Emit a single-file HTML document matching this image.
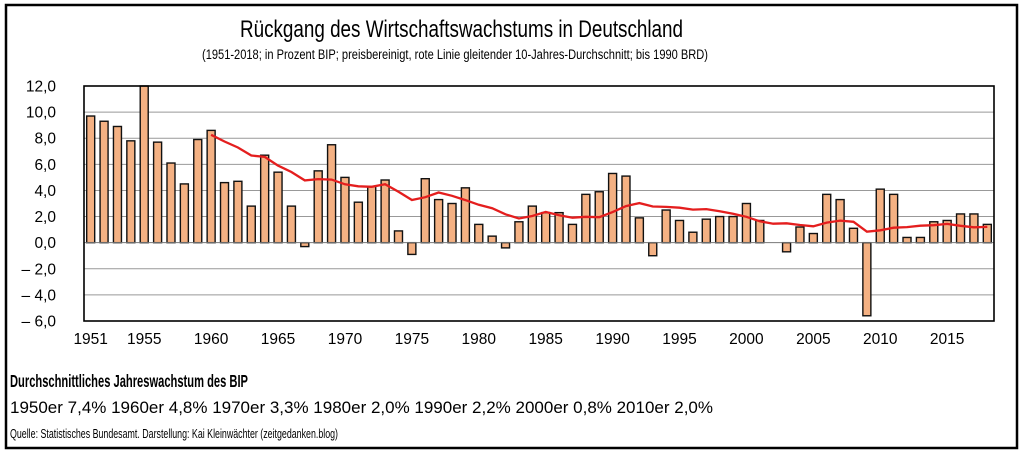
<!DOCTYPE html>
<html><head><meta charset="utf-8"><style>
html,body{margin:0;padding:0;background:#fff}
svg{display:block}
text{font-family:"Liberation Sans",sans-serif;fill:#000}
</style></head><body>
<svg id="s" width="1024" height="451" xmlns="http://www.w3.org/2000/svg"></svg>
<script>
const d=[9.7,9.3,8.9,7.8,12.1,7.7,6.1,4.5,7.9,8.6,4.6,4.7,2.8,6.7,5.4,2.8,-0.3,5.5,7.5,5.0,3.1,4.3,4.8,0.9,-0.9,4.9,3.3,3.0,4.2,1.4,0.5,-0.4,1.6,2.8,2.3,2.3,1.4,3.7,3.9,5.3,5.1,1.9,-1.0,2.5,1.7,0.8,1.8,2.0,2.0,3.0,1.7,0.0,-0.7,1.2,0.7,3.7,3.3,1.1,-5.6,4.1,3.7,0.4,0.4,1.6,1.7,2.2,2.2,1.4];
const L=84,R=994,T=86,B=321,Z=T+12*(B-T)/18,k=(B-T)/18,st=(R-L)/68;
const X=i=>L+st*(i+0.5),Y=v=>Z-v*k;
let s='<rect x="6" y="5" width="1011" height="443" fill="none" stroke="#000" stroke-width="2.5"/>';
s+='<text x="461.5" y="37" font-size="24" text-anchor="middle" textLength="443" lengthAdjust="spacingAndGlyphs">Rückgang des Wirtschaftswachstums in Deutschland</text>';
s+='<text x="455" y="59" font-size="13.5" text-anchor="middle" textLength="506" lengthAdjust="spacingAndGlyphs">(1951-2018; in Prozent BIP; preisbereinigt, rote Linie gleitender 10-Jahres-Durchschnitt; bis 1990 BRD)</text>';
for(let v=-6;v<=12;v+=2){const y=Y(v);
 if(v<12&&v!=0)s+=`<line x1="${L}" x2="${R}" y1="${y}" y2="${y}" stroke="#999" stroke-width="1"/>`;
 const lab=(v<0?'– '+(-v):v)+',0';
 s+=`<text x="56" y="${y+5.5}" font-size="15.5" text-anchor="end">${lab}</text>`;}
d.forEach((v,i)=>{const vv=Math.min(v,12);const y1=Math.min(Y(vv),Z),h=Math.abs(Y(vv)-Z);
 if(h>0.1)s+=`<rect x="${X(i)-4}" y="${y1}" width="8" height="${h}" fill="#f4b183" stroke="#111" stroke-width="1.4"/>`;});
s+=`<line x1="${L}" x2="${R}" y1="${Z}" y2="${Z}" stroke="#777" stroke-width="1"/>`;
let p=[];for(let i=9;i<68;i++){let a=0;for(let j=i-9;j<=i;j++)a+=d[j];p.push(X(i).toFixed(1)+','+Y(a/10).toFixed(1));}
s+=`<polyline points="${p.join(' ')}" fill="none" stroke="#e41e1e" stroke-width="2.3"/>`;
s+=`<rect x="${L}" y="${T}" width="${R-L}" height="${B-T}" fill="none" stroke="#000" stroke-width="1.6"/>`;
[1951,1955,1960,1965,1970,1975,1980,1985,1990,1995,2000,2005,2010,2015].forEach(y=>{
 s+=`<text x="${X(y-1951)}" y="344" font-size="15.5" text-anchor="middle">${y}</text>`;});
s+='<text x="10" y="387" font-size="17.5" font-weight="bold" textLength="238" lengthAdjust="spacingAndGlyphs">Durchschnittliches Jahreswachstum des BIP</text>';
s+='<text x="10" y="413" font-size="17" textLength="703" lengthAdjust="spacingAndGlyphs">1950er 7,4%  1960er 4,8%  1970er 3,3%  1980er 2,0%  1990er 2,2%  2000er 0,8%  2010er 2,0%</text>';
s+='<text x="10" y="438" font-size="12.5" textLength="328" lengthAdjust="spacingAndGlyphs">Quelle: Statistisches Bundesamt. Darstellung: Kai Kleinwächter (zeitgedanken.blog)</text>';
document.getElementById('s').innerHTML=s;
</script>
</body></html>
